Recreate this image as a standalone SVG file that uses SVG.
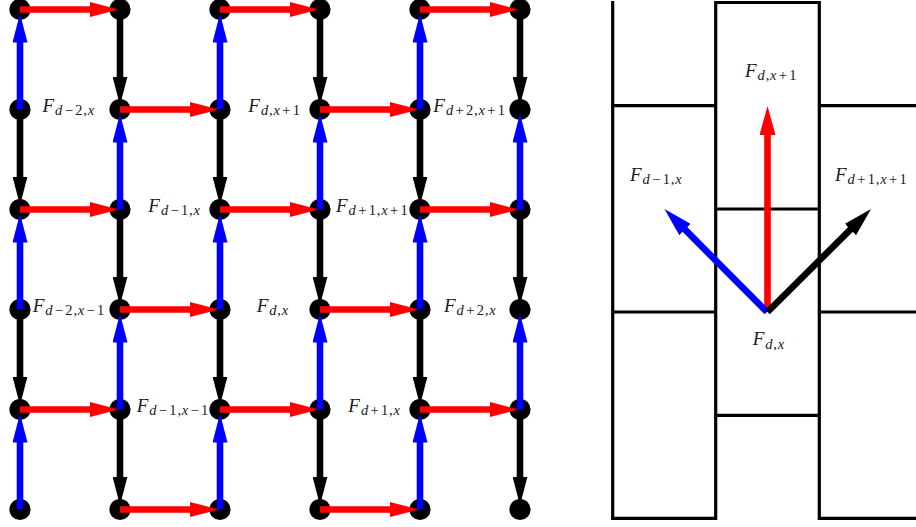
<svg xmlns="http://www.w3.org/2000/svg" width="916" height="527" viewBox="0 0 916 527">
<style>
.nd{fill:#000}
.e{fill:none;stroke-width:6.6;stroke-linecap:butt}
.r{stroke:#ff0000}
.b{stroke:#0000ff}
.k{stroke:#000}
.lbl{font-family:"Liberation Serif","Times New Roman",serif;font-style:italic;font-size:19px;fill:#1a1a1a}
.sub{font-size:14.5px;font-style:normal;letter-spacing:0.8px}
.i{font-style:italic}
.op{letter-spacing:2.3px}
.cell{fill:none;stroke:#000;stroke-width:3.2;stroke-linejoin:miter}
</style>
<defs>
<marker id="hr" markerUnits="userSpaceOnUse" viewBox="0 0 29 15" markerWidth="29" markerHeight="15" refX="0.5" refY="7.5" orient="auto"><path d="M0,0 L29,7.5 L0,15 z" fill="#ff0000"/></marker>
<marker id="hb" markerUnits="userSpaceOnUse" viewBox="0 0 29 15" markerWidth="29" markerHeight="15" refX="0.5" refY="7.5" orient="auto"><path d="M0,0 L29,7.5 L0,15 z" fill="#0000ff"/></marker>
<marker id="hk" markerUnits="userSpaceOnUse" viewBox="0 0 29 15" markerWidth="29" markerHeight="15" refX="0.5" refY="7.5" orient="auto"><path d="M0,0 L29,7.5 L0,15 z" fill="#000"/></marker>
<marker id="hr2" markerUnits="userSpaceOnUse" viewBox="0 0 29 16" markerWidth="29" markerHeight="16" refX="0.5" refY="8" orient="auto"><path d="M0,0 L29,8 L0,16 z" fill="#ff0000"/></marker>
<marker id="hb2" markerUnits="userSpaceOnUse" viewBox="0 0 29 16" markerWidth="29" markerHeight="16" refX="0.5" refY="8" orient="auto"><path d="M0,0 L29,8 L0,16 z" fill="#0000ff"/></marker>
<marker id="hk2" markerUnits="userSpaceOnUse" viewBox="0 0 29 16" markerWidth="29" markerHeight="16" refX="0.5" refY="8" orient="auto"><path d="M0,0 L29,8 L0,16 z" fill="#000"/></marker>
</defs>

<g id="nodes">
<g id="n00"><circle class="nd" cx="20" cy="9.5" r="10.6"/></g>
<g id="n01"><circle class="nd" cx="120" cy="9.5" r="10.6"/></g>
<g id="n02"><circle class="nd" cx="220" cy="9.5" r="10.6"/></g>
<g id="n03"><circle class="nd" cx="320" cy="9.5" r="10.6"/></g>
<g id="n04"><circle class="nd" cx="420" cy="9.5" r="10.6"/></g>
<g id="n05"><circle class="nd" cx="520" cy="9.5" r="10.6"/></g>
<g id="n10"><circle class="nd" cx="20" cy="109.5" r="10.6"/></g>
<g id="n11"><circle class="nd" cx="120" cy="109.5" r="10.6"/></g>
<g id="n12"><circle class="nd" cx="220" cy="109.5" r="10.6"/></g>
<g id="n13"><circle class="nd" cx="320" cy="109.5" r="10.6"/></g>
<g id="n14"><circle class="nd" cx="420" cy="109.5" r="10.6"/></g>
<g id="n15"><circle class="nd" cx="520" cy="109.5" r="10.6"/></g>
<g id="n20"><circle class="nd" cx="20" cy="209.5" r="10.6"/></g>
<g id="n21"><circle class="nd" cx="120" cy="209.5" r="10.6"/></g>
<g id="n22"><circle class="nd" cx="220" cy="209.5" r="10.6"/></g>
<g id="n23"><circle class="nd" cx="320" cy="209.5" r="10.6"/></g>
<g id="n24"><circle class="nd" cx="420" cy="209.5" r="10.6"/></g>
<g id="n25"><circle class="nd" cx="520" cy="209.5" r="10.6"/></g>
<g id="n30"><circle class="nd" cx="20" cy="309.5" r="10.6"/></g>
<g id="n31"><circle class="nd" cx="120" cy="309.5" r="10.6"/></g>
<g id="n32"><circle class="nd" cx="220" cy="309.5" r="10.6"/></g>
<g id="n33"><circle class="nd" cx="320" cy="309.5" r="10.6"/></g>
<g id="n34"><circle class="nd" cx="420" cy="309.5" r="10.6"/></g>
<g id="n35"><circle class="nd" cx="520" cy="309.5" r="10.6"/></g>
<g id="n40"><circle class="nd" cx="20" cy="409.5" r="10.6"/></g>
<g id="n41"><circle class="nd" cx="120" cy="409.5" r="10.6"/></g>
<g id="n42"><circle class="nd" cx="220" cy="409.5" r="10.6"/></g>
<g id="n43"><circle class="nd" cx="320" cy="409.5" r="10.6"/></g>
<g id="n44"><circle class="nd" cx="420" cy="409.5" r="10.6"/></g>
<g id="n45"><circle class="nd" cx="520" cy="409.5" r="10.6"/></g>
<g id="n50"><circle class="nd" cx="20" cy="509.5" r="10.6"/></g>
<g id="n51"><circle class="nd" cx="120" cy="509.5" r="10.6"/></g>
<g id="n52"><circle class="nd" cx="220" cy="509.5" r="10.6"/></g>
<g id="n53"><circle class="nd" cx="320" cy="509.5" r="10.6"/></g>
<g id="n54"><circle class="nd" cx="420" cy="509.5" r="10.6"/></g>
<g id="n55"><circle class="nd" cx="520" cy="509.5" r="10.6"/></g>
</g>

<g id="connectors">
<g id="red-edges">
<path class="e r" d="M20,9.5 H90.5" marker-end="url(#hr)"/>
<path class="e r" d="M220,9.5 H290.5" marker-end="url(#hr)"/>
<path class="e r" d="M420,9.5 H490.5" marker-end="url(#hr)"/>
<path class="e r" d="M120,109.5 H190.5" marker-end="url(#hr)"/>
<path class="e r" d="M320,109.5 H390.5" marker-end="url(#hr)"/>
<path class="e r" d="M20,209.5 H90.5" marker-end="url(#hr)"/>
<path class="e r" d="M220,209.5 H290.5" marker-end="url(#hr)"/>
<path class="e r" d="M420,209.5 H490.5" marker-end="url(#hr)"/>
<path class="e r" d="M120,309.5 H190.5" marker-end="url(#hr)"/>
<path class="e r" d="M320,309.5 H390.5" marker-end="url(#hr)"/>
<path class="e r" d="M20,409.5 H90.5" marker-end="url(#hr)"/>
<path class="e r" d="M220,409.5 H290.5" marker-end="url(#hr)"/>
<path class="e r" d="M420,409.5 H490.5" marker-end="url(#hr)"/>
<path class="e r" d="M120,509.5 H190.5" marker-end="url(#hr)"/>
<path class="e r" d="M320,509.5 H390.5" marker-end="url(#hr)"/>
</g>
<g id="blue-edges">
<path class="e b" d="M20,109.5 V42" marker-end="url(#hb)"/>
<path class="e b" d="M20,309.5 V242" marker-end="url(#hb)"/>
<path class="e b" d="M20,509.5 V442" marker-end="url(#hb)"/>
<path class="e b" d="M220,109.5 V42" marker-end="url(#hb)"/>
<path class="e b" d="M220,309.5 V242" marker-end="url(#hb)"/>
<path class="e b" d="M220,509.5 V442" marker-end="url(#hb)"/>
<path class="e b" d="M420,109.5 V42" marker-end="url(#hb)"/>
<path class="e b" d="M420,309.5 V242" marker-end="url(#hb)"/>
<path class="e b" d="M420,509.5 V442" marker-end="url(#hb)"/>
<path class="e b" d="M120,209.5 V142" marker-end="url(#hb)"/>
<path class="e b" d="M120,409.5 V342" marker-end="url(#hb)"/>
<path class="e b" d="M320,209.5 V142" marker-end="url(#hb)"/>
<path class="e b" d="M320,409.5 V342" marker-end="url(#hb)"/>
<path class="e b" d="M520,209.5 V142" marker-end="url(#hb)"/>
<path class="e b" d="M520,409.5 V342" marker-end="url(#hb)"/>
</g>
<g id="black-edges">
<path class="e k" d="M20,109.5 V177" marker-end="url(#hk)"/>
<path class="e k" d="M20,309.5 V377" marker-end="url(#hk)"/>
<path class="e k" d="M220,109.5 V177" marker-end="url(#hk)"/>
<path class="e k" d="M220,309.5 V377" marker-end="url(#hk)"/>
<path class="e k" d="M420,109.5 V177" marker-end="url(#hk)"/>
<path class="e k" d="M420,309.5 V377" marker-end="url(#hk)"/>
<path class="e k" d="M120,9.5 V77" marker-end="url(#hk)"/>
<path class="e k" d="M120,209.5 V277" marker-end="url(#hk)"/>
<path class="e k" d="M120,409.5 V477" marker-end="url(#hk)"/>
<path class="e k" d="M320,9.5 V77" marker-end="url(#hk)"/>
<path class="e k" d="M320,209.5 V277" marker-end="url(#hk)"/>
<path class="e k" d="M320,409.5 V477" marker-end="url(#hk)"/>
<path class="e k" d="M520,9.5 V77" marker-end="url(#hk)"/>
<path class="e k" d="M520,209.5 V277" marker-end="url(#hk)"/>
<path class="e k" d="M520,409.5 V477" marker-end="url(#hk)"/>
</g>
</g>

<g id="grid-labels">
<g id="L-dm2-x"><text class="lbl" x="42.5" y="111.5">F<tspan class="sub" dx="1" dy="3.5"><tspan class="i">d</tspan><tspan class="op" dx="1.5">−</tspan>2,<tspan class="i">x</tspan></tspan></text></g>
<g id="L-d-xp1"><text class="lbl" x="248.3" y="111.5">F<tspan class="sub" dx="1" dy="3.5"><tspan class="i">d</tspan>,<tspan class="i">x</tspan><tspan class="op" dx="1.5">+</tspan>1</tspan></text></g>
<g id="L-dp2-xp1"><text class="lbl" x="433.3" y="111.5">F<tspan class="sub" dx="1" dy="3.5"><tspan class="i">d</tspan><tspan class="op" dx="1.5">+</tspan>2,<tspan class="i">x</tspan><tspan class="op" dx="1.5">+</tspan>1</tspan></text></g>
<g id="L-dm1-x"><text class="lbl" x="148.3" y="211.5">F<tspan class="sub" dx="1" dy="3.5"><tspan class="i">d</tspan><tspan class="op" dx="1.5">−</tspan>1,<tspan class="i">x</tspan></tspan></text></g>
<g id="L-dp1-xp1"><text class="lbl" x="336" y="211.5">F<tspan class="sub" dx="1" dy="3.5"><tspan class="i">d</tspan><tspan class="op" dx="1.5">+</tspan>1,<tspan class="i">x</tspan><tspan class="op" dx="1.5">+</tspan>1</tspan></text></g>
<g id="L-dm2-xm1"><text class="lbl" x="32.7" y="311.5">F<tspan class="sub" dx="1" dy="3.5"><tspan class="i">d</tspan><tspan class="op" dx="1.5">−</tspan>2,<tspan class="i">x</tspan><tspan class="op" dx="1.5">−</tspan>1</tspan></text></g>
<g id="L-d-x"><text class="lbl" x="256.7" y="311.5">F<tspan class="sub" dx="1" dy="3.5"><tspan class="i">d</tspan>,<tspan class="i">x</tspan></tspan></text></g>
<g id="L-dp2-x"><text class="lbl" x="444" y="311.5">F<tspan class="sub" dx="1" dy="3.5"><tspan class="i">d</tspan><tspan class="op" dx="1.5">+</tspan>2,<tspan class="i">x</tspan></tspan></text></g>
<g id="L-dm1-xm1"><text class="lbl" x="136.7" y="411.5">F<tspan class="sub" dx="1" dy="3.5"><tspan class="i">d</tspan><tspan class="op" dx="1.5">−</tspan>1,<tspan class="i">x</tspan><tspan class="op" dx="1.5">−</tspan>1</tspan></text></g>
<g id="L-dp1-x"><text class="lbl" x="348.3" y="411.5">F<tspan class="sub" dx="1" dy="3.5"><tspan class="i">d</tspan><tspan class="op" dx="1.5">+</tspan>1,<tspan class="i">x</tspan></tspan></text></g>
</g>

<g id="cells">
<path class="cell" d="M612.7,1 V518.3 H715.7 V2.5 H819.3 V518.3 H917"/>
<path class="cell" d="M612.7,105.7 H715.7 M819.3,105.7 H917 M715.7,209 H819.3 M612.7,312 H715.7 M819.3,312 H917 M715.7,415.3 H819.3"/>
</g>

<g id="cell-arrows">
<path class="e r" d="M767.5,312 V134.5" marker-end="url(#hr2)"/>
<path class="e b" d="M767,312 L684.6,229.2" marker-end="url(#hb2)"/>
<path class="e k" d="M767.5,312 L850.8,229.1" marker-end="url(#hk2)"/>
</g>

<g id="cell-labels">
<g id="C-d-xp1"><text class="lbl" x="745" y="76.5">F<tspan class="sub" dx="1" dy="3.5"><tspan class="i">d</tspan>,<tspan class="i">x</tspan><tspan class="op" dx="1.5">+</tspan>1</tspan></text></g>
<g id="C-dm1-x"><text class="lbl" x="630" y="180.5">F<tspan class="sub" dx="1" dy="3.5"><tspan class="i">d</tspan><tspan class="op" dx="1.5">−</tspan>1,<tspan class="i">x</tspan></tspan></text></g>
<g id="C-dp1-xp1"><text class="lbl" x="835" y="180.5">F<tspan class="sub" dx="1" dy="3.5"><tspan class="i">d</tspan><tspan class="op" dx="1.5">+</tspan>1,<tspan class="i">x</tspan><tspan class="op" dx="1.5">+</tspan>1</tspan></text></g>
<g id="C-d-x"><text class="lbl" x="752.7" y="345">F<tspan class="sub" dx="1" dy="3.5"><tspan class="i">d</tspan>,<tspan class="i">x</tspan></tspan></text></g>
</g>
</svg>
